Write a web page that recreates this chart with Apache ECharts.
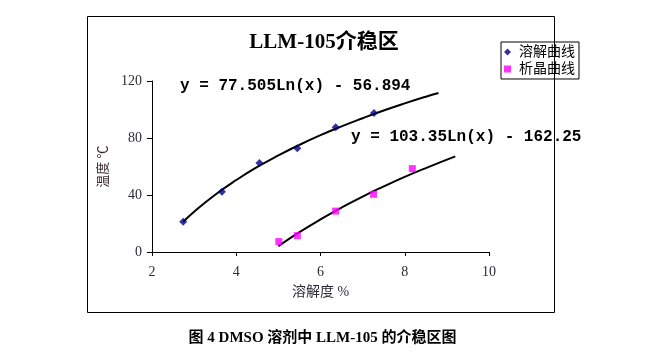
<!DOCTYPE html>
<html><head><meta charset="utf-8">
<script src="https://cdn.jsdelivr.net/npm/echarts@6/dist/echarts.min.js"></script>
<style>html,body{margin:0;padding:0;background:#fff}#c{width:645px;height:357px}</style>
</head><body><div id="c"></div>
<script>
// Measured points (solubility %, temperature °C)
const dissolveX = [2.74, 3.66, 4.55, 5.45, 6.36, 7.27];
const dissolveY = [21.3, 42.3, 62.4, 72.8, 87.5, 97.5];
const crystalX = [5.01, 5.45, 6.36, 7.26, 8.18];
const crystalY = [7.3, 11.5, 28.7, 40.5, 58.5];
// Trend curves
const dissolveTrendX = [2.74, 3.0, 3.5, 4.0, 4.5, 5.0, 5.5, 6.0, 6.5, 7.0, 7.5, 8.0, 8.5, 8.8];
const dissolveTrendY = [21.2, 28.3, 40.2, 50.5, 59.7, 67.8, 75.2, 82.0, 88.2, 93.9, 99.3, 104.3, 109.0, 111.6];
const crystalTrendX = [5.0, 5.5, 6.0, 6.5, 7.0, 7.5, 8.0, 8.5, 9.2];
const crystalTrendY = [4.1, 13.9, 22.9, 31.2, 38.9, 46.0, 52.7, 58.9, 67.1];
const seriesNames = ['溶解曲线', '析晶曲线'];
const xTicks = [2, 4, 6, 8, 10];
const yTicks = [0, 40, 80, 120];
const titleText = 'LLM-105介稳区';
const eq1 = 'y = 77.505Ln(x) - 56.894';
const eq2 = 'y = 103.35Ln(x) - 162.25';
const caption = '图 4 DMSO 溶剂中 LLM-105 的介稳区图';

const zip = (a, b) => a.map((v, i) => [v, b[i]]);
const serif = "'Liberation Serif','Noto Sans CJK SC',serif";
const txtColor = '#2e2a36';

const chart = echarts.init(document.getElementById('c'));
chart.setOption({
  animation: false,
  backgroundColor: '#fff',
  grid: {left: 152, right: 156, top: 81, bottom: 105, containLabel: false},
  title: {
    text: titleText, left: 319, top: 27, textAlign: 'center',
    textStyle: {fontFamily: serif, fontSize: 21, fontWeight: 'bold', color: '#000'}
  },
  legend: {
    data: [
      {name: seriesNames[0], icon: 'diamond'},
      {name: seriesNames[1], icon: 'rect'}
    ],
    orient: 'vertical', left: 501, top: 42, itemWidth: 7, itemHeight: 7, itemGap: 3,
    padding: [3, 4, 3, 3], borderColor: '#000', borderWidth: 1,
    textStyle: {fontFamily: serif, fontSize: 14, color: '#000', padding: [0, 0, 0, 3]}
  },
  xAxis: {
    type: 'value', min: 2, max: 10, interval: 2,
    name: '溶解度 %', nameLocation: 'middle', nameGap: 33,
    nameTextStyle: {fontFamily: serif, fontSize: 14, color: txtColor},
    axisLine: {onZero: false, lineStyle: {color: '#000', width: 1}},
    axisTick: {show: true, length: 4, lineStyle: {color: '#000'}},
    axisLabel: {fontFamily: serif, fontSize: 14, color: txtColor, margin: 13,
      formatter: v => xTicks.includes(v) ? String(v) : ''},
    splitLine: {show: false}
  },
  yAxis: {
    type: 'value', min: 0, max: 120, interval: 40,
    name: '温度 ℃', nameLocation: 'middle', nameGap: 37, nameRotate: 90,
    nameTextStyle: {fontFamily: serif, fontSize: 13, color: '#3a2830'},
    axisLine: {show: true, lineStyle: {color: '#000', width: 1}},
    axisTick: {show: true, length: 5, lineStyle: {color: '#000'}},
    axisLabel: {fontFamily: serif, fontSize: 14, color: txtColor, margin: 10,
      formatter: v => yTicks.includes(v) ? String(v) : ''},
    splitLine: {show: false}
  },
  series: [
    {name: seriesNames[0] + '趋势', type: 'line', data: zip(dissolveTrendX, dissolveTrendY),
      smooth: true, showSymbol: false, lineStyle: {color: '#000', width: 2}, z: 2, silent: true},
    {name: seriesNames[1] + '趋势', type: 'line', data: zip(crystalTrendX, crystalTrendY),
      smooth: true, showSymbol: false, lineStyle: {color: '#000', width: 2}, z: 2, silent: true},
    {name: seriesNames[0], type: 'scatter', data: zip(dissolveX, dissolveY),
      symbol: 'diamond', symbolSize: 8, itemStyle: {color: '#000080'}, z: 3},
    {name: seriesNames[1], type: 'scatter', data: zip(crystalX, crystalY),
      symbol: 'rect', symbolSize: 7, itemStyle: {color: '#ff00ff'}, z: 3}
  ],
  graphic: [
    {type: 'rect', shape: {x: 87.5, y: 16.5, width: 467, height: 296},
      style: {fill: null, stroke: '#000', lineWidth: 1}, z: -1, silent: true},
    {type: 'text', left: 180, top: 78,
      style: {text: eq1, font: "bold 16px 'Liberation Mono', monospace", fill: '#000'}},
    {type: 'text', left: 351, top: 129,
      style: {text: eq2, font: "bold 16px 'Liberation Mono', monospace", fill: '#000'}},
    {type: 'text', left: 'center', top: 331,
      style: {text: caption, font: "bold 15px 'Liberation Serif','Noto Sans CJK SC', serif", fill: '#000'}}
  ]
});
</script></body></html>
